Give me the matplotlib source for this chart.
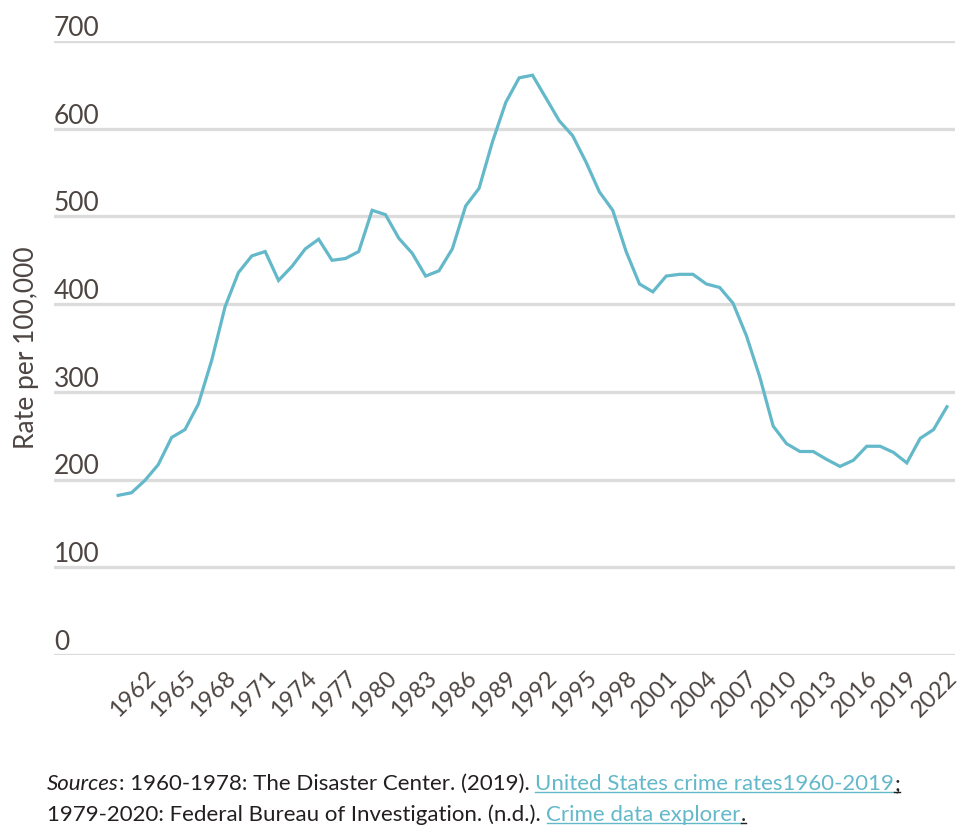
import numpy as np
import matplotlib.pyplot as plt
from matplotlib.lines import Line2D

plt.rcParams['font.family'] = ['Lato', 'DejaVu Sans']

# violent crime rate per 100,000
years = np.arange(1960, 2023)
rate = [182, 185, 199, 217, 248, 257, 286, 336, 397, 436,
        455, 460, 427, 443, 463, 474, 450, 452, 460, 507,
        502, 475, 458, 432, 438, 463, 512, 532, 585, 630,
        658, 661, 635, 609, 592, 562, 528, 507, 460, 423,
        414, 432, 434, 434, 423, 419, 401, 364, 317, 261,
        241, 232, 232, 223, 215, 222, 238, 238, 231, 219,
        247, 257, 283]
tick_years = list(range(1962, 2023, 3))
y_ticks = [0, 100, 200, 300, 400, 500, 600, 700]

line_color = '#63b8c9'
text_color = '#4d4542'
foot_color = '#231f20'
grid_color = '#dcdcdc'

fig = plt.figure(figsize=(9.69, 8.28), dpi=100)
ax = fig.add_axes([0.0557, 0.2077, 0.9298, 0.7416])

ax.plot(years, rate, color=line_color, lw=2.3, solid_joinstyle='miter', zorder=3)

ax.set_xlim(1955.2, 2022.6)
ax.set_ylim(0, 700)
for s in ax.spines.values():
    s.set_visible(False)

ax.set_yticks(y_ticks)
ax.yaxis.grid(True, color=grid_color, lw=2.4)
ax.tick_params(axis='y', length=0, labelleft=False)
for v in y_ticks:
    ax.text(0, v + 7, str(v), transform=ax.get_yaxis_transform(),
            ha='left', va='baseline', fontsize=19, color=text_color)

ax.set_xticks(tick_years)
ax.set_xticklabels([str(y) for y in tick_years], rotation=45, ha='right',
                   rotation_mode='anchor', fontsize=17, color=text_color)
ax.tick_params(axis='x', length=0, pad=8)

fig.text(27 / 969, 1 - 348 / 828, 'Rate per 100,000', rotation=90,
         ha='center', va='center', fontsize=19, color=text_color)

# footer with underlined links
fig.canvas.draw()
renderer = fig.canvas.get_renderer()
W, H = fig.bbox.width, fig.bbox.height
FOOT = 16


def text_width(s, **kw):
    t = fig.text(0, 0, s, fontsize=FOOT, **kw)
    w = t.get_window_extent(renderer).width
    t.remove()
    return w


space_w = text_width('a a') - text_width('aa')


def put_line(x_px, y_px, pieces):
    for txt, style, color, under, gap in pieces:
        t = fig.text(x_px / W, 1 - y_px / H, txt, fontsize=FOOT, fontstyle=style,
                     color=color, ha='left', va='baseline')
        bb = t.get_window_extent(renderer)
        if under:
            yy = 1 - (y_px + 3) / H
            fig.add_artist(Line2D([bb.x0 / W, bb.x1 / W], [yy, yy],
                                  color=color, lw=1.0))
        x_px = bb.x1 + (space_w if gap else 0)


put_line(47, 790, [
    ('Sources', 'italic', foot_color, False, False),
    (': 1960-1978: The Disaster Center. (2019).', 'normal', foot_color, False, True),
    ('United States crime rates1960-2019', 'normal', line_color, True, False),
    (';', 'normal', foot_color, True, False),
])
put_line(47, 821, [
    ('1979-2020: Federal Bureau of Investigation. (n.d.).', 'normal', foot_color, False, True),
    ('Crime data explorer', 'normal', line_color, True, False),
    ('.', 'normal', foot_color, True, False),
])

fig.savefig('out.png', dpi=100)
